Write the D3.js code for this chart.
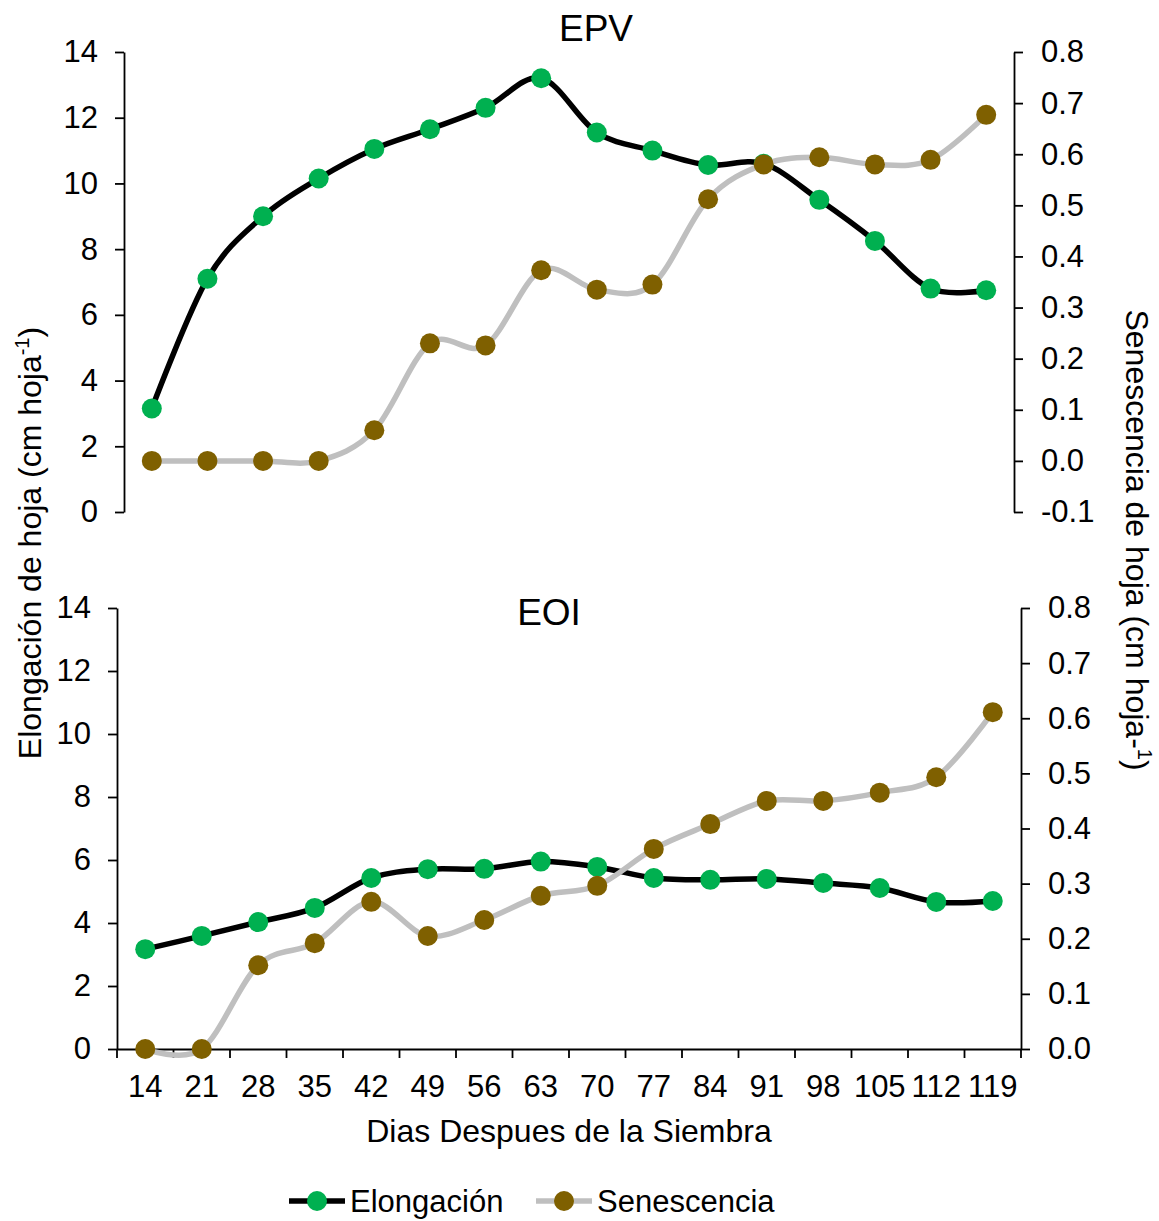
<!DOCTYPE html>
<html>
<head>
<meta charset="utf-8">
<script src="https://cdn.jsdelivr.net/npm/d3@7"></script>
<style>
  body { margin: 0; background: #fff; }
  text { font-family: "Liberation Sans", Arial, sans-serif; fill: #000; }
</style>
</head>
<body>
<div id="chart"></div>
<script>
// Datos
const days = [14, 21, 28, 35, 42, 49, 56, 63, 70, 77, 84, 91, 98, 105, 112, 119];

const epvElong = [3.15, 7.1, 9.0, 10.15, 11.05, 11.65, 12.3, 13.2, 11.55, 11.0, 10.56, 10.6, 9.5, 8.25, 6.8, 6.75];
const epvSen   = [0, 0, 0, 0, 0.06, 0.23, 0.226, 0.373, 0.335, 0.345, 0.512, 0.58, 0.594, 0.58, 0.589, 0.677];

const eoiElong = [3.17, 3.59, 4.03, 4.48, 5.43, 5.71, 5.72, 5.95, 5.78, 5.43, 5.37, 5.40, 5.27, 5.11, 4.67, 4.70];
const eoiSen   = [0, 0, 0.152, 0.192, 0.267, 0.205, 0.234, 0.278, 0.296, 0.363, 0.408, 0.450, 0.450, 0.465, 0.493, 0.611];

const leftTicks = [0, 2, 4, 6, 8, 10, 12, 14];
const epvRightTicks = [-0.1, 0, 0.1, 0.2, 0.3, 0.4, 0.5, 0.6, 0.7, 0.8];
const eoiRightTicks = [0, 0.1, 0.2, 0.3, 0.4, 0.5, 0.6, 0.7, 0.8];

const W = 1159, H = 1221;
const green = "#00B050", brown = "#7F6000", gray = "#BFBFBF";

const svg = d3.select("#chart")
  .append("svg")
  .attr("width", W)
  .attr("height", H);

const panels = [
  { title: "EPV", titleX: 596, titleY: 41, x0: 124, x1: 1014, yTop: 52, yBot: 512,
    rDomain: [-0.1, 0.8], rTicks: epvRightTicks, elong: epvElong, sen: epvSen, showX: false },
  { title: "EOI", titleX: 549, titleY: 625, x0: 117, x1: 1021, yTop: 608, yBot: 1049,
    rDomain: [0, 0.8], rTicks: eoiRightTicks, elong: eoiElong, sen: eoiSen, showX: true }
];

function drawPanel(p) {
  const g = svg.append("g");

  const x = d3.scaleBand().domain(days).range([p.x0, p.x1]);
  const yL = d3.scaleLinear().domain([0, 14]).range([p.yBot, p.yTop]);
  const yR = d3.scaleLinear().domain(p.rDomain).range([p.yBot, p.yTop]);
  const cx = d => x(d) + x.bandwidth() / 2;

  // eje izquierdo
  const axL = g.append("g")
    .attr("transform", `translate(${p.x0},0)`)
    .call(d3.axisLeft(yL).tickValues(leftTicks).tickSize(9).tickSizeOuter(0).tickPadding(17));
  // eje derecho (guion normal en -0.1)
  const axR = g.append("g")
    .attr("transform", `translate(${p.x1},0)`)
    .call(d3.axisRight(yR).tickValues(p.rTicks).tickFormat(d => d.toFixed(1)).tickSize(9).tickSizeOuter(0).tickPadding(18));

  [axL, axR].forEach(a => {
    a.selectAll("path, line").attr("stroke", "#000").attr("stroke-width", 1.8);
    a.selectAll("text").style("font-size", "31px").attr("font-family", null);
  });

  if (p.showX) {
    const axB = g.append("g")
      .attr("transform", `translate(0,${p.yBot})`)
      .call(d3.axisBottom(x).tickSize(0).tickSizeOuter(0).tickPadding(26));
    axB.select(".domain").attr("stroke", "#000").attr("stroke-width", 1.8);
    axB.selectAll("text").style("font-size", "31px").attr("font-family", null);
    // marcas entre categorias
    axB.selectAll(".sep")
      .data(d3.range(days.length + 1))
      .enter().append("line")
      .attr("x1", i => p.x0 + i * x.step())
      .attr("x2", i => p.x0 + i * x.step())
      .attr("y1", 0).attr("y2", 9)
      .attr("stroke", "#000").attr("stroke-width", 1.8);
  }

  g.append("text")
    .attr("x", p.titleX).attr("y", p.titleY)
    .attr("text-anchor", "middle")
    .style("font-size", "37px")
    .text(p.title);

  const lineL = d3.line().x((d, i) => cx(days[i])).y(d => yL(d)).curve(d3.curveCardinal.tension(0));
  const lineR = d3.line().x((d, i) => cx(days[i])).y(d => yR(d)).curve(d3.curveCardinal.tension(0));

  g.append("path").datum(p.elong)
    .attr("d", lineL).attr("fill", "none").attr("stroke", "#000").attr("stroke-width", 5.5);
  g.selectAll(".pe").data(p.elong).enter().append("circle")
    .attr("cx", (d, i) => cx(days[i])).attr("cy", d => yL(d)).attr("r", 10).attr("fill", green);

  g.append("path").datum(p.sen)
    .attr("d", lineR).attr("fill", "none").attr("stroke", gray).attr("stroke-width", 5.5);
  g.selectAll(".ps").data(p.sen).enter().append("circle")
    .attr("cx", (d, i) => cx(days[i])).attr("cy", d => yR(d)).attr("r", 10).attr("fill", brown);
}

panels.forEach(drawPanel);

// titulos de ejes
const yTitleL = svg.append("text")
  .attr("transform", "translate(41,543) rotate(-90)")
  .attr("text-anchor", "middle")
  .style("font-size", "32px");
yTitleL.append("tspan").text("Elongación de hoja (cm hoja");
yTitleL.append("tspan").attr("dy", -12).style("font-size", "20px").text("-1");
yTitleL.append("tspan").attr("dy", 12).text(")");

const yTitleR = svg.append("text")
  .attr("transform", "translate(1126,540) rotate(90)")
  .attr("text-anchor", "middle")
  .style("font-size", "32px");
yTitleR.append("tspan").text("Senescencia de hoja (cm hoja-");
yTitleR.append("tspan").attr("dy", -12).style("font-size", "20px").text("1");
yTitleR.append("tspan").attr("dy", 12).text(")");

svg.append("text")
  .attr("x", 569).attr("y", 1142)
  .attr("text-anchor", "middle")
  .style("font-size", "32px")
  .text("Dias Despues de la Siembra");

// leyenda
const legend = [
  { name: "Elongación", stroke: "#000", fill: green, x: 289 },
  { name: "Senescencia", stroke: gray, fill: brown, x: 536 }
];
const lg = svg.selectAll(".leg").data(legend).enter().append("g")
  .attr("transform", d => `translate(${d.x},1201)`);
lg.append("line").attr("x1", 0).attr("x2", 56).attr("y1", 0).attr("y2", 0)
  .attr("stroke", d => d.stroke).attr("stroke-width", 5.5);
lg.append("circle").attr("cx", 28).attr("cy", 0).attr("r", 10).attr("fill", d => d.fill);
lg.append("text").attr("x", 61).attr("y", 11).style("font-size", "31px").text(d => d.name);
</script>
</body>
</html>
